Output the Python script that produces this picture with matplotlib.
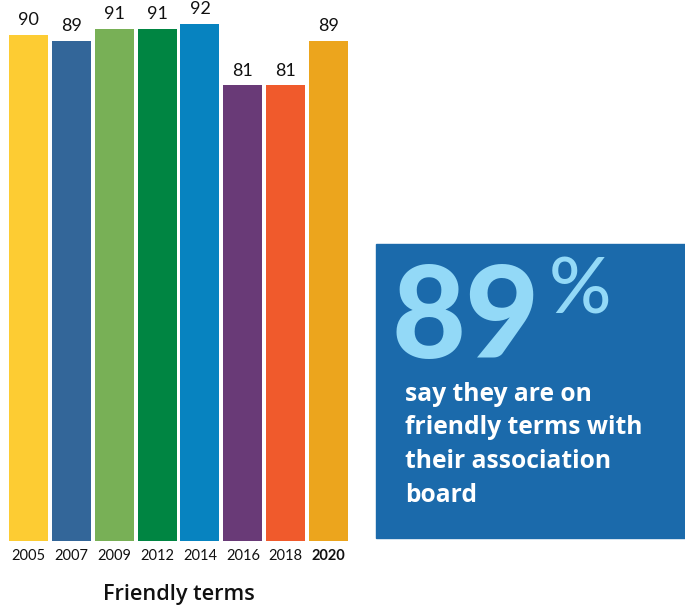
import matplotlib
matplotlib.use("Agg")
import matplotlib.pyplot as plt
from matplotlib.patches import Rectangle

years = ["2005", "2007", "2009", "2012", "2014", "2016", "2018", "2020"]
values = [90, 89, 91, 91, 92, 81, 81, 89]
colors = ["#fdcc33", "#336699", "#78b056", "#008542", "#0783c0", "#693a77", "#f05a2c", "#eca51d"]
axis_title = "Friendly terms"
headline = "89"
headline_suffix = "%"
callout_lines = ["say they are on", "friendly terms with", "their association", "board"]

FONT = ["Lato", "DejaVu Sans"]
WIDE = ["Open Sans", "DejaVu Sans"]
plt.rcParams["font.family"] = FONT

W, H = 685, 607
fig = plt.figure(figsize=(W / 100, H / 100), dpi=100)
renderer = fig.canvas.get_renderer()

def fx(px):
    return px / W

def fy(py):
    return 1 - py / H

def fit(t, target_px):
    w = t.get_window_extent(renderer).width
    t.set_fontsize(t.get_fontsize() * target_px / w)

ax_left, ax_right = 7.07, 350.0
ax_bottom, ax_top = 540.7, 1.2
ax = fig.add_axes([fx(ax_left), fy(ax_bottom), fx(ax_right - ax_left), (ax_bottom - ax_top) / H])
x = list(range(len(years)))
bars = ax.bar(x, values, width=0.91, color=colors)
ax.set_xlim(-0.5, len(years) - 0.5)
ax.set_ylim(0, 96)
for s in ax.spines.values():
    s.set_visible(False)
ax.set_yticks([])
ax.set_xticks(x)
ax.set_xticklabels(years, fontsize=10.5, color="#111111")
ax.tick_params(axis="x", length=0, pad=6)
for lbl in ax.get_xticklabels():
    if lbl.get_text() == "2020":
        lbl.set_fontweight("bold")
for xi, v in zip(x, values):
    ax.annotate(str(v), (xi, v), xytext=(0, 5), textcoords="offset points",
                ha="center", va="bottom", fontsize=13, color="#111111")

tt = fig.text(fx(179), fy(600), axis_title, ha="center", va="baseline",
              fontsize=15, fontweight="semibold", color="#111111", family=WIDE)
fit(tt, 153)

# callout box
fig.patches.append(Rectangle((fx(376), fy(538)), fx(685 - 376), (538 - 244) / H,
                             transform=fig.transFigure, color="#1b6aab", zorder=0))
fig.text(fx(391), fy(358), headline, ha="left", va="baseline", fontsize=92,
         fontweight="black", color="#93d9f7")
fig.text(fx(549), fy(314), headline_suffix, ha="left", va="baseline", fontsize=56,
         fontweight="medium", color="#93d9f7")
baselines = [400.7, 434, 468, 502]
texts = []
for line, b in zip(callout_lines, baselines):
    texts.append(fig.text(fx(405), fy(b), line, ha="left", va="baseline", fontsize=16,
                          fontweight="bold", color="white", family=WIDE))
w_ref = texts[1].get_window_extent(renderer).width
scale = 238 / w_ref
for t in texts:
    t.set_fontsize(t.get_fontsize() * scale)

fig.savefig("out.png", dpi=100)
